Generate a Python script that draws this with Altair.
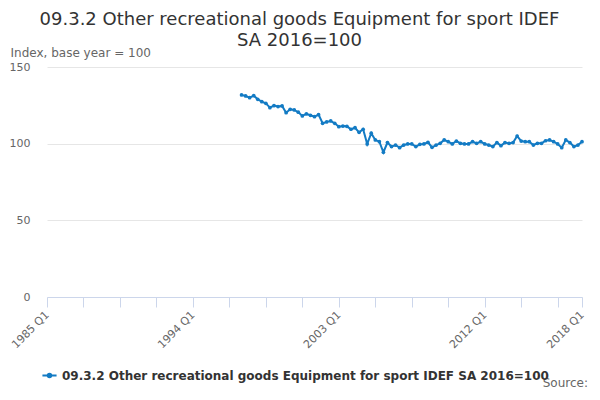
import altair as alt
import pandas as pd

# Categories: quarters 1985 Q1 .. 2018 Q1
all_quarters = [f"{y} Q{q}" for y in range(1985, 2019) for q in range(1, 5)]
all_quarters = all_quarters[: all_quarters.index("2018 Q1") + 1]

# Data periods 1997 Q1 .. 2018 Q1
periods = all_quarters[all_quarters.index("1997 Q1"):]

values = [
    131.8, 131.1, 130.0, 131.3, 128.9, 127.4, 126.3, 123.5, 124.8, 124.2,
    124.6, 120.2, 122.4, 122.0, 120.5, 118.1, 119.4, 118.5, 117.6, 118.9,
    113.3, 114.2, 114.8, 113.3, 111.1, 111.5, 111.3, 109.4, 110.4, 107.4,
    109.4, 99.8, 106.8, 102.4, 101.3, 94.4, 100.7, 98.1, 99.1, 97.4,
    99.1, 99.8, 99.8, 98.1, 99.6, 99.8, 100.9, 97.6, 99.1, 100.2,
    102.4, 101.3, 99.8, 101.7, 100.2, 99.8, 99.8, 101.3, 100.2, 101.3,
    99.8, 99.1, 98.1, 100.7, 98.7, 100.7, 100.2, 100.7, 105.0, 101.7,
    101.3, 101.3, 99.1, 100.2, 100.2, 101.9, 102.4, 101.3, 99.8, 97.4,
    102.4, 100.7, 98.1, 99.1, 101.3,
]

series_name = "09.3.2 Other recreational goods Equipment for sport IDEF SA 2016=100"
tick_quarters = all_quarters[::9] + ["2018 Q1"]
label_quarters = ["1985 Q1", "1994 Q1", "2003 Q1", "2012 Q1", "2018 Q1"]
y_ticks = [0, 50, 100, 150]

df = pd.DataFrame({"period": periods, "value": values, "series": series_name})

color = "#137bc4"
cond = " || ".join(f"datum.value == '{l}'" for l in label_quarters)

x_enc = alt.X(
    "period:O",
    scale=alt.Scale(type="point", domain=all_quarters, padding=0),
    axis=alt.Axis(
        values=tick_quarters,
        labelExpr=f"({cond}) ? datum.value : ''",
        labelAngle=-45,
        labelAlign="right",
        labelBaseline="middle",
        labelColor="#666666",
        labelFontSize=11,
        labelPadding=6,
        labelOverlap=False,
        tickColor="#ccd6eb",
        tickSize=10,
        domainColor="#ccd6eb",
        grid=False,
        title=None,
    ),
)
y_enc = alt.Y(
    "value:Q",
    scale=alt.Scale(domain=[0, 150], nice=False, zero=True),
    axis=alt.Axis(
        values=y_ticks,
        title="Index, base year = 100",
        titleAngle=0,
        titleAlign="left",
        titleBaseline="middle",
        titleX=-37,
        titleY=-15,
        titleFontWeight="normal",
        titleFontSize=12,
        titleColor="#666666",
        labelColor="#666666",
        labelFontSize=11,
        labelPadding=17,
        tickSize=0,
        domain=False,
        gridColor="#e6e6e6",
    ),
)

line = alt.Chart(df).mark_line(
    point=alt.OverlayMarkDef(filled=True, size=14, color=color),
    strokeWidth=2,
).encode(
    x=x_enc,
    y=y_enc,
    color=alt.Color(
        "series:N",
        scale=alt.Scale(range=[color]),
        legend=alt.Legend(
            title=None,
            orient="none",
            legendX=-6,
            legendY=300,
            symbolType="M-1,0H1M-0.25,0a0.25,0.25 0 1,0 0.5,0a0.25,0.25 0 1,0 -0.5,0",
            symbolSize=200,
            symbolStrokeWidth=2,
            symbolFillColor=color,
            labelFontSize=12,
            labelFontWeight="bold",
            labelColor="#333333",
            labelLimit=600,
        ),
    ),
)

source = alt.Chart(pd.DataFrame({"t": ["Source:"]})).mark_text(
    align="right", baseline="alphabetic", fontSize=12, color="#666666"
).encode(text="t:N", x=alt.value(541), y=alt.value(320))

chart = alt.layer(line, source).properties(
    width=535,
    height=230,
    padding={"left": 39, "top": 59, "right": 10, "bottom": 95},
    autosize=alt.AutoSizeParams(type="none"),
    title=alt.TitleParams(
        text=["09.3.2 Other recreational goods Equipment for sport IDEF", "SA 2016=100"],
        anchor="middle",
        frame="group",
        dx=-15,
        offset=-4,
        fontSize=18,
        fontWeight="normal",
        color="#333333",
        lineHeight=21,
    ),
).configure(font="DejaVu Sans").configure_view(stroke=None)

chart.save("out.html", embed_options={"renderer": "svg", "actions": False})
